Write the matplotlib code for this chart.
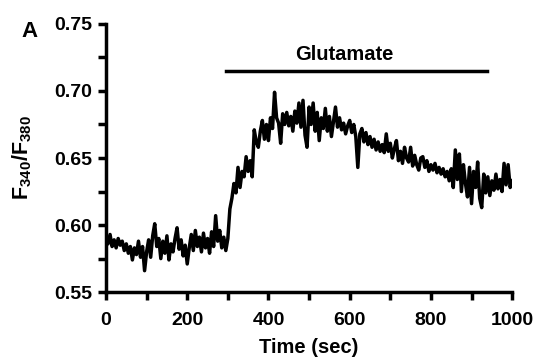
import numpy as np
import matplotlib
matplotlib.use("Agg")
import matplotlib.pyplot as plt
from matplotlib.ticker import MultipleLocator

plt.rcParams['font.family'] = ['Liberation Sans', 'DejaVu Sans']
plt.rcParams['font.weight'] = 'bold'
plt.rcParams['mathtext.fontset'] = 'custom'
plt.rcParams['mathtext.bf'] = 'Liberation Sans:bold'
plt.rcParams['mathtext.rm'] = 'Liberation Sans:bold'
plt.rcParams['mathtext.default'] = 'bf'

# time axis, one reading every 5 s
time_sec = np.arange(0, 1001, 5)

# baseline before glutamate (0-295 s)
baseline = [
    0.592, 0.586, 0.593, 0.584, 0.589, 0.583, 0.590, 0.585, 0.588, 0.581,
    0.586, 0.579, 0.584, 0.574, 0.583, 0.578, 0.588, 0.576, 0.584, 0.566,
    0.580, 0.589, 0.576, 0.592, 0.601, 0.584, 0.590, 0.575, 0.588, 0.579,
    0.592, 0.574, 0.586, 0.580, 0.590, 0.598, 0.582, 0.589, 0.577, 0.585,
    0.571, 0.583, 0.593, 0.581, 0.596, 0.584, 0.591, 0.580, 0.594, 0.583,
    0.590, 0.579, 0.595, 0.584, 0.607, 0.588, 0.596, 0.583, 0.591, 0.581,
]

# response during glutamate and after (300-1000 s)
response = [
    0.590, 0.612, 0.620, 0.631, 0.624, 0.643, 0.628, 0.640, 0.636, 0.651,
    0.640, 0.648, 0.636, 0.671, 0.662, 0.658, 0.670, 0.678, 0.664, 0.675,
    0.663, 0.680, 0.672, 0.699, 0.680, 0.676, 0.661, 0.683, 0.675, 0.684,
    0.674, 0.681, 0.670, 0.685, 0.676, 0.691, 0.673, 0.693, 0.667, 0.658,
    0.688, 0.675, 0.691, 0.670, 0.684, 0.663, 0.680, 0.672, 0.687, 0.670,
    0.681, 0.666, 0.677, 0.688, 0.673, 0.680, 0.671, 0.676, 0.668, 0.674,
    0.678, 0.669, 0.675, 0.666, 0.643, 0.668, 0.672, 0.662, 0.669, 0.660,
    0.666, 0.658, 0.664, 0.656, 0.662, 0.655, 0.660, 0.654, 0.668, 0.655,
    0.661, 0.650, 0.657, 0.663, 0.648, 0.655, 0.646, 0.658, 0.650, 0.647,
    0.658, 0.644, 0.652, 0.645, 0.641, 0.650, 0.651, 0.643, 0.648, 0.640,
    0.645, 0.641, 0.646, 0.639, 0.643, 0.638, 0.642, 0.636, 0.640, 0.633,
    0.642, 0.628, 0.656, 0.634, 0.653, 0.625, 0.645, 0.631, 0.621, 0.643,
    0.616, 0.640, 0.628, 0.647, 0.620, 0.613, 0.638, 0.624, 0.636, 0.622,
    0.633, 0.626, 0.638, 0.627, 0.634, 0.625, 0.646, 0.630, 0.645, 0.628,
    0.633,
]

ratio = np.array(baseline + response)

glu_start, glu_end = 295, 938
glu_y = 0.715

fig = plt.figure(figsize=(5.38, 3.62), dpi=100)
ax = fig.add_axes([0.197, 0.193, 0.755, 0.741])

ax.plot(time_sec, ratio, color='black', linewidth=2.5)

ax.set_xlim(0, 1000)
ax.set_ylim(0.55, 0.75)
ax.xaxis.set_major_locator(MultipleLocator(200))
ax.xaxis.set_minor_locator(MultipleLocator(100))
ax.yaxis.set_minor_locator(MultipleLocator(0.025))
ax.set_yticks([0.55, 0.60, 0.65, 0.70, 0.75])
ax.set_yticklabels(['0.55', '0.60', '0.65', '0.70', '0.75'])

for side in ['top', 'right']:
    ax.spines[side].set_visible(False)
for side in ['left', 'bottom']:
    ax.spines[side].set_linewidth(2.5)
ax.tick_params(which='both', direction='out', width=2.5, length=6)
ax.tick_params(axis='x', labelsize=14, pad=8)
ax.tick_params(axis='y', labelsize=14, pad=4)

ax.set_xlabel('Time (sec)', fontsize=14.5, fontweight='bold', labelpad=7)
fig.text(0.041, 0.5635, r'$\mathbf{F_{340}/F_{380}}$', fontsize=15.5,
         rotation=90, ha='center', va='center')

ax.plot([glu_start, glu_end], [glu_y, glu_y], color='black', linewidth=2.5, clip_on=False)
ax.text(586, 0.727, 'Glutamate', ha='center', va='center', fontsize=14.5, fontweight='bold')

fig.text(0.054, 0.914, 'A', fontsize=16, fontweight='bold', ha='center', va='center')

fig.savefig('out.png', dpi=100)
